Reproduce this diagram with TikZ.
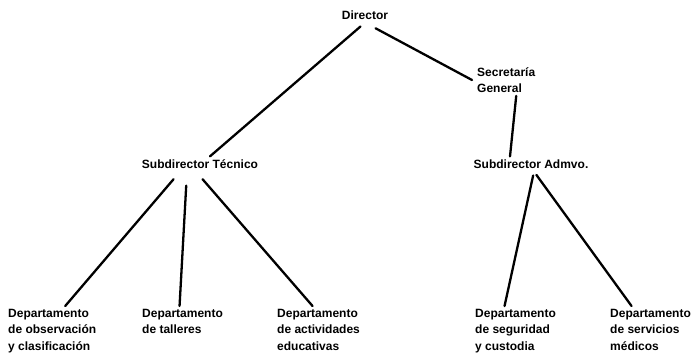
\documentclass[tikz,border=0pt]{standalone}
\usepackage{fontspec}
\setmainfont{Liberation Sans}
\tikzstyle{office}=[font=\bfseries\fontsize{12}{16.5}\selectfont, inner sep=3pt, align=left]
\tikzstyle{link}=[line width=2.3pt, line cap=round]

\begin{document}
\begin{tikzpicture}[x=1pt, y=-1pt]
      \useasboundingbox (0, 0) rectangle (693, 359);

      \node[office] (dir) at (365, 15) {Director};
      \node[office, anchor=west] (secgen) at (474, 80) {Secretaría\\General};

      \node[office] (subtec) at (200, 164) {Subdirector Técnico};
      \node[office] (subadm) at (531, 164) {Subdirector Admvo.};

      \node[office, anchor=north west] (dobs) at (5, 306) {Departamento\\de observación\\y clasificación};
      \node[office, anchor=north west] (dtal) at (139, 306) {Departamento\\de talleres};
      \node[office, anchor=north west] (dact) at (274, 306) {Departamento\\de actividades\\educativas};
      \node[office, anchor=north west] (dseg) at (472, 306) {Departamento\\de seguridad\\y custodia};
      \node[office, anchor=north west] (dmed) at (607, 306) {Departamento\\de servicios\\médicos};

      \draw[link, shorten <=6pt] (dir.south) -- ([xshift=10pt]subtec.north);
      \draw[link, shorten <=12pt] (dir.south) -- ([xshift=-2pt]secgen.west);
      \draw[link] ([xshift=10pt]secgen.south) -- ([xshift=-21pt]subadm.north);

      \draw[link, shorten <=10pt] ([xshift=-20pt]subtec.south) -- ([xshift=13pt]dobs.north);
      \draw[link, shorten <=14pt] ([xshift=-13pt]subtec.south) -- ([xshift=-3pt]dtal.north);
      \draw[link, shorten <=10pt] ([xshift=-4pt]subtec.south) -- ([xshift=-6pt]dact.north);

      \draw[link, shorten <=4pt] ([xshift=3pt]subadm.south) -- ([xshift=-11pt]dseg.north);
      \draw[link, shorten <=4pt] ([xshift=3pt]subadm.south) -- ([xshift=-19pt]dmed.north);
    \end{tikzpicture}
\end{document}
